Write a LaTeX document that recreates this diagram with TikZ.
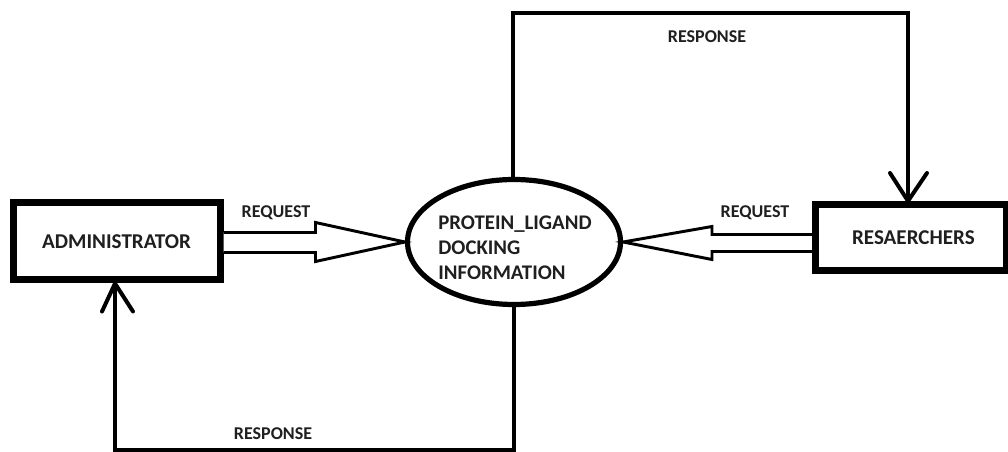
\documentclass[tikz,border=0pt]{standalone}
\usepackage{fontspec}
\setmainfont{Carlito}
\usetikzlibrary{calc,shapes.geometric}
\begin{document}
\begin{tikzpicture}[x=0.75pt,y=-0.75pt,
  lbl/.style={font=\bfseries\fontsize{13.5}{15}\selectfont, text=black!88, inner sep=0pt},
  boxnode/.style={draw, line width=5.25pt, rectangle, inner sep=0pt, font=\bfseries\fontsize{15.8}{17}\selectfont, text=black!88},
  hollow/.style={draw, line width=2.2pt, line join=miter, fill=white},
  flow/.style={draw, line width=3pt},
  vtip/.style={draw, line width=3pt, line cap=round}]
\useasboundingbox (0,0) rectangle (1008,452);
\fill[white] (0,0) rectangle (1008,452);
% nodes
\node[boxnode, minimum width=155.25pt, minimum height=57.75pt] (admin) at (116.5,241.5) {ADMINISTRATOR};
\node[boxnode, minimum width=142.9pt, minimum height=49.5pt] (res) at (910.75,237.5) {\hspace*{4pt}RESAERCHERS};
\node[draw, ellipse, line width=3.9pt, minimum width=159.75pt, minimum height=93.75pt, inner sep=0pt] (proc) at (514,242) {};
\node[lbl, align=left, font=\bfseries\fontsize{15.6}{18.8}\selectfont] (proclabel) at (515,248) {PROTEIN\_LIGAND\\DOCKING\\INFORMATION};
% request arrows (hollow)
\draw[hollow] ($(admin.east)+(0,-9)$) -- ++(92,0) -- ++(0,-10) -- (proc.west) -- ($(admin.east)+(92,20)$) -- ++(0,-9) -- ($(admin.east)+(0,11)$);
\draw[hollow] ($(res.west)+(0,-3)$) -- ($(res.west)+(-100,-3)$) -- ++(0,-8) -- (proc.east) -- ($(res.west)+(-100,22)$) -- ++(0,-8) -- ($(res.west)+(0,14)$);
% top response
\coordinate (tl) at (513,13);
\coordinate (tr) at (908,13);
\draw[flow] (proc.north -| tl) -- (tl) -- (tr) -- (tr |- res.north);
\draw[vtip] ($(tr |- res.north)+(-18,-28)$) -- (tr |- res.north) -- ($(tr |- res.north)+(19,-28)$);
% bottom response
\coordinate (bl) at (115,450);
\coordinate (br) at (514,450);
\draw[flow] (proc.south -| br) -- (br) -- (bl) -- (bl |- admin.south);
\draw[vtip] ($(bl |- admin.south)+(-13,28)$) -- (bl |- admin.south) -- ($(bl |- admin.south)+(18,28)$);
% labels
\node[lbl] (lreq) at (276,213) {REQUEST};
\node[lbl] (rreq) at (755,213) {REQUEST};
\node[lbl] (tresp) at (707,37) {RESPONSE};
\node[lbl] (bresp) at (273,434) {RESPONSE};
\end{tikzpicture}
\end{document}
